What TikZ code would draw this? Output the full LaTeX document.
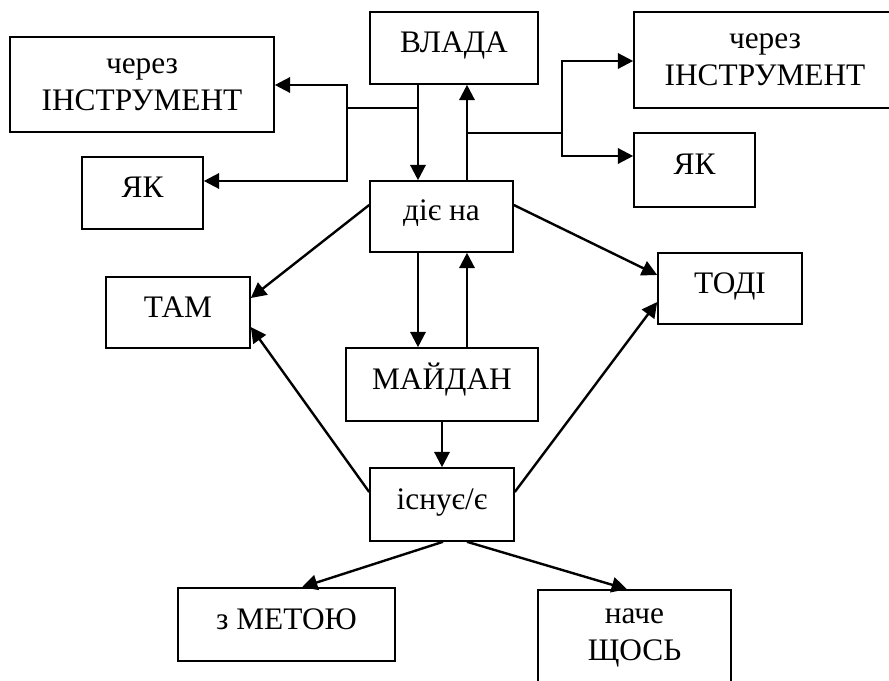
\documentclass[tikz,border=0pt]{standalone}
\usepackage{fontspec}
\setmainfont{Liberation Serif}
\usepackage{tikz}
\usetikzlibrary{arrows.meta}

\tikzset{
  box/.style={draw, line width=1.2pt, align=center, inner sep=0pt},
  word/.style={box, text height=16.5pt, text depth=9.75pt},
  arr/.style={line width=1.8pt, -{Triangle[length=11.5pt,width=11.5pt]}},
  wire/.style={line width=1.8pt}
}

\begin{document}
\begin{tikzpicture}[x=0.75pt, y=-0.75pt, font=\fontsize{23.5}{28}\selectfont]
\useasboundingbox (0,0) rectangle (889,681);
\node[word, minimum width=168*0.75pt, minimum height=72*0.75pt] (vlada) at (454,48) {ВЛАДА};
\node[box, minimum width=264*0.75pt, minimum height=95*0.75pt] (instrL) at (142,84.5) {через\\ІНСТРУМЕНТ};
\node[word, minimum width=121*0.75pt, minimum height=72*0.75pt] (yakL) at (142.5,193) {ЯК};
\node[box, minimum width=262*0.75pt, minimum height=96*0.75pt] (instrR) at (765,60) {через\\ІНСТРУМЕНТ};
\node[word, minimum width=121*0.75pt, minimum height=74*0.75pt] (yakR) at (694.5,170) {ЯК};
\node[word, minimum width=143*0.75pt, minimum height=71*0.75pt] (diye) at (441.5,216.5) {діє на};
\node[word, minimum width=144*0.75pt, minimum height=71*0.75pt] (tam) at (178,312.5) {ТАМ};
\node[word, minimum width=144*0.75pt, minimum height=71*0.75pt] (todi) at (730,288.5) {ТОДІ};
\node[word, minimum width=192*0.75pt, minimum height=73*0.75pt] (maidan) at (442,384.5) {МАЙДАН};
\node[word, minimum width=144*0.75pt, minimum height=73*0.75pt] (isnuye) at (442,504.5) {існує/є};
\node[word, minimum width=217*0.75pt, minimum height=73*0.75pt] (meta) at (286.5,624.5) {з МЕТОЮ};
\node[box, minimum width=193*0.75pt, minimum height=96*0.75pt] (inshe) at (634.5,638) {наче\\ЩОСЬ};

% up and down lines in the middle
\coordinate (dn) at (418,0);
\coordinate (up) at (467,0);
\draw[arr] (vlada.south -| dn) -- (diye.north -| dn);
\draw[arr] (diye.north -| up) -- (vlada.south -| up);
\draw[arr] (diye.south -| dn) -- (maidan.north -| dn);
\draw[arr] (maidan.north -| up) -- (diye.south -| up);
\draw[arr] (maidan) -- (isnuye);

% branches to the left and right
\coordinate (jl) at (347,108);
\coordinate (jr) at (562,133);
\draw[wire] (jl -| dn) -- (jl);
\draw[arr] (jl) |- (instrL.east |- 0,85);
\draw[arr] (jl) |- (yakL.east |- 0,181);
\draw[wire] (jr -| up) -- (jr);
\draw[arr] (jr) |- (instrR.west |- 0,61);
\draw[arr] (jr) |- (yakR.west |- 0,156);

% diagonals
\draw[arr] (diye.west |- 0,205) -- (tam.east |- 0,298);
\draw[arr] (isnuye.west |- 0,492) -- (tam.east |- 0,327);
\draw[arr] (diye.east |- 0,205) -- (todi.west |- 0,275);
\draw[arr] (isnuye.east |- 0,492) -- (todi.west |- 0,302);
\draw[arr] (isnuye.south -| 443,0) -- (meta.north -| 302,0);
\draw[arr] (isnuye.south -| 467,0) -- (inshe.north -| 627,0);
\end{tikzpicture}
\end{document}
